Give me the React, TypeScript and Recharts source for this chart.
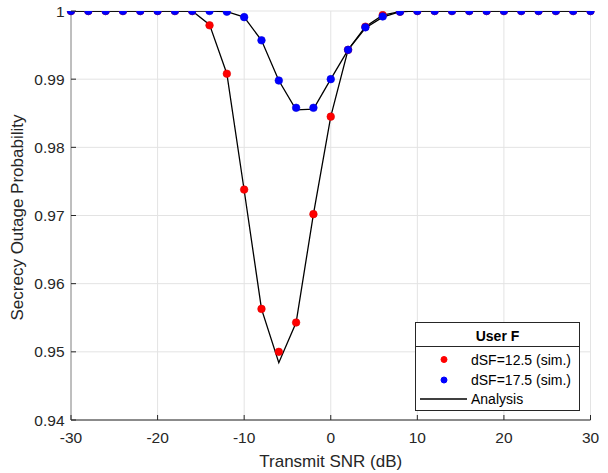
import React from "react";
import { ComposedChart, Line, XAxis, YAxis, CartesianGrid, Legend } from "recharts";

const snr = [-30, -28, -26, -24, -22, -20, -18, -16, -14, -12, -10, -8, -6, -4, -2, 0, 2, 4, 6, 8, 10, 12, 14, 16, 18, 20, 22, 24, 26, 28, 30];

// dSF = 12.5
const sim125 = [1, 1, 1, 1, 1, 1, 1, 1, 0.9979, 0.9908, 0.9738, 0.9563, 0.95, 0.9543, 0.9702, 0.9845, 0.9943, 0.9977, 0.9994, 0.9999, 1, 1, 1, 1, 1, 1, 1, 1, 1, 1, 1];
const ana125 = [1, 1, 1, 1, 1, 1, 1, 1, 0.998, 0.9908, 0.9737, 0.9563, 0.9484, 0.9543, 0.9702, 0.9845, 0.9943, 0.9977, 0.9994, 0.9999, 1, 1, 1, 1, 1, 1, 1, 1, 1, 1, 1];

// dSF = 17.5
const sim175 = [1, 1, 1, 1, 1, 1, 1, 1, 1, 0.9999, 0.9991, 0.9957, 0.9898, 0.9858, 0.9858, 0.99, 0.9943, 0.9976, 0.9992, 0.9999, 1, 1, 1, 1, 1, 1, 1, 1, 1, 1, 1];
const ana175 = [1, 1, 1, 1, 1, 1, 1, 1, 1, 0.9999, 0.9991, 0.9957, 0.9898, 0.9855, 0.9856, 0.99, 0.9943, 0.9975, 0.9991, 0.9999, 1, 1, 1, 1, 1, 1, 1, 1, 1, 1, 1];

const xTicks = [-30, -20, -10, 0, 10, 20, 30];
const yTicks = [0.94, 0.95, 0.96, 0.97, 0.98, 0.99, 1];

const legendTitle = "User F";
const legendLabels = ["dSF=12.5 (sim.)", "dSF=17.5 (sim.)", "Analysis"];

const data = snr.map((x, i) => ({
    x,
    sim125: sim125[i],
    sim175: sim175[i],
    ana125: ana125[i],
    ana175: ana175[i],
}));

const FONT = "'Liberation Sans', Arial, Helvetica, sans-serif";
const INK = "#262626";

const XTick = ({ x, y, payload }: any) => (
    <g>
        <line x1={x} x2={x} y1={y} y2={y - 5} stroke={INK} strokeWidth={1} />
        <text x={x} y={y + 23} textAnchor="middle" fontSize={15.5} fontFamily={FONT} fill={INK}>
            {payload.value}
        </text>
    </g>
);

const YTick = ({ x, y, payload }: any) => (
    <g>
        <line x1={x} x2={x + 5} y1={y} y2={y} stroke={INK} strokeWidth={1} />
        <text x={x - 6.5} y={y + 5.5} textAnchor="end" fontSize={15.5} fontFamily={FONT} fill={INK}>
            {payload.value}
        </text>
    </g>
);

const LegendBox = () => (
    <svg width={165} height={89} style={{ display: "block" }}>
        <rect x={0.5} y={0.5} width={164} height={88} fill="#fff" stroke={INK} strokeWidth={1} />
        <text x={82.5} y={19} textAnchor="middle" fontSize={14} fontWeight="bold" fontFamily={FONT} fill="#000">
            {legendTitle}
        </text>
        <line x1={0.5} x2={164.5} y1={24.5} y2={24.5} stroke={INK} strokeWidth={1} />
        <circle cx={29} cy={37.5} r={3} fill="#ff0000" stroke="#ff0000" />
        <text x={56} y={42.5} fontSize={14} fontFamily={FONT} fill="#000">{legendLabels[0]}</text>
        <circle cx={29} cy={58} r={3} fill="#0000ff" stroke="#0000ff" />
        <text x={56} y={63} fontSize={14} fontFamily={FONT} fill="#000">{legendLabels[1]}</text>
        <line x1={5} x2={52} y1={77} y2={77} stroke="#000" strokeWidth={1.3} />
        <text x={56} y={82} fontSize={14} fontFamily={FONT} fill="#000">{legendLabels[2]}</text>
    </svg>
);

const YLabel = ({ viewBox }: any) => {
    const cx = viewBox.x + 22.5;
    const cy = viewBox.y + viewBox.height / 2 + 2;
    return (
        <text x={cx} y={cy} transform={`rotate(-90 ${cx} ${cy})`} textAnchor="middle" fontSize={17} fontFamily={FONT} fill={INK}>
            Secrecy Outage Probability
        </text>
    );
};

const XLabel = ({ viewBox }: any) => (
    <text x={viewBox.x + viewBox.width / 2} y={viewBox.y + 47} textAnchor="middle" fontSize={17} fontFamily={FONT} fill={INK}>
        Transmit SNR (dB)
    </text>
);

export default function App() {
    return (
        <div style={{ position: "absolute", left: 0, top: 0, width: 608, height: 473, background: "#fff" }}>
            <ComposedChart width={608} height={473} data={data} margin={{ top: 11, right: 17.5, left: 0, bottom: 0 }}>
                <CartesianGrid stroke="#e3e3e3" strokeWidth={1} vertical horizontal verticalPoints={undefined} />
                <XAxis
                    dataKey="x"
                    type="number"
                    domain={[-30, 30]}
                    ticks={xTicks}
                    height={53}
                    tickSize={0}
                    tickMargin={0}
                    tickLine={false}
                    axisLine={{ stroke: INK, strokeWidth: 1 }}
                    tick={<XTick />}
                    interval={0}
                    label={<XLabel />}
                />
                <YAxis
                    type="number"
                    domain={[0.94, 1]}
                    ticks={yTicks}
                    width={71}
                    tickSize={0}
                    tickMargin={0}
                    tickLine={false}
                    axisLine={{ stroke: "#8c8c8c", strokeWidth: 1 }}
                    tick={<YTick />}
                    interval={0}
                    allowDataOverflow
                    label={<YLabel />}
                />
                <Legend
                    layout="horizontal"
                    verticalAlign="middle"
                    content={<LegendBox />}
                    wrapperStyle={{ left: 415, top: 322, width: 165, height: 89 }}
                />
                <Line
                    dataKey="sim125"
                    stroke="none"
                    dot={{ r: 3.8, fill: "#ff0000", stroke: "#e00000", strokeWidth: 0.6 }}
                    activeDot={false}
                    isAnimationActive={false}
                />
                <Line
                    dataKey="sim175"
                    stroke="none"
                    dot={{ r: 3.8, fill: "#0000ff", stroke: "#0000e0", strokeWidth: 0.6 }}
                    activeDot={false}
                    isAnimationActive={false}
                />
                <Line dataKey="ana125" type="linear" stroke="#000" strokeWidth={1.3} dot={false} activeDot={false} isAnimationActive={false} />
                <Line dataKey="ana175" type="linear" stroke="#000" strokeWidth={1.3} dot={false} activeDot={false} isAnimationActive={false} />
            </ComposedChart>
        </div>
    );
}
